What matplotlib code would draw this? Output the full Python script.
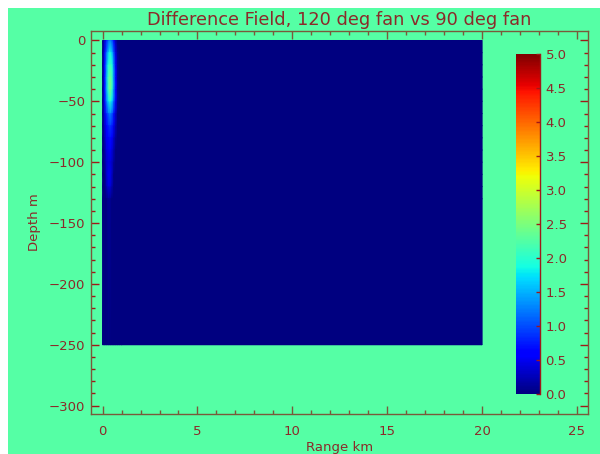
import numpy as np
import matplotlib
matplotlib.use('Agg')
import matplotlib.pyplot as plt
from matplotlib.patches import Rectangle
from matplotlib.ticker import MultipleLocator, FormatStrFormatter

# Grid nodes of the difference field (range km, depth m)
range_km = [0.0, 0.1, 0.2, 0.3, 0.4, 0.5, 0.6, 0.7, 0.8, 0.9, 1.0, 20.0]
depth_m = [0, -10, -20, -30, -40, -50, -60, -70, -80, -90, -100,
           -110, -120, -130, -250]

# values at the nodes, one row per depth
field = [
    [0, 0.3, 0.7, 1.0, 1.2, 1.0, 0.6, 0.2, 0, 0, 0, 0],
    [0, 0.5, 1.1, 1.6, 1.9, 1.6, 1.0, 0.4, 0.1, 0, 0, 0],
    [0, 0.6, 1.3, 1.9, 2.1, 1.9, 1.2, 0.5, 0.1, 0, 0, 0],
    [0, 0.6, 1.4, 2.1, 2.4, 2.1, 1.3, 0.6, 0.1, 0, 0, 0],
    [0, 0.6, 1.4, 2.1, 2.5, 2.1, 1.3, 0.6, 0.1, 0, 0, 0],
    [0, 0.5, 1.2, 1.7, 2.0, 1.7, 1.1, 0.5, 0.1, 0, 0, 0],
    [0, 0.4, 0.8, 1.1, 1.3, 1.1, 0.7, 0.3, 0, 0, 0, 0],
    [0, 0.3, 0.6, 0.8, 0.9, 0.8, 0.5, 0.2, 0, 0, 0, 0],
    [0, 0.2, 0.5, 0.6, 0.7, 0.6, 0.3, 0.1, 0, 0, 0, 0],
    [0, 0.1, 0.4, 0.5, 0.6, 0.4, 0.2, 0, 0, 0, 0, 0],
    [0, 0.1, 0.3, 0.4, 0.4, 0.3, 0.1, 0, 0, 0, 0, 0],
    [0, 0, 0.3, 0.5, 0.5, 0.3, 0, 0, 0, 0, 0, 0],
    [0, 0, 0.2, 0.4, 0.4, 0.2, 0, 0, 0, 0, 0, 0],
    [0, 0, 0, 0.1, 0.1, 0, 0, 0, 0, 0, 0, 0],
    [0, 0, 0, 0, 0, 0, 0, 0, 0, 0, 0, 0],
]
cbar_ticks = [0.0, 0.5, 1.0, 1.5, 2.0, 2.5, 3.0, 3.5, 4.0, 4.5, 5.0]

bg = '#55FFA5'
txt = '#8B2A2A'
spine = '#7A5A3A'
tickred = '#A01818'

fig = plt.figure(figsize=(6.0, 4.54), dpi=100, facecolor='white')
# green panel with a thin white margin top/left
fig.patches.append(Rectangle((8 / 600, 0), 1, 1 - 8 / 454,
                             transform=fig.transFigure, facecolor=bg,
                             edgecolor='none', zorder=-10))

ax = fig.add_axes([91 / 600, 1 - 414 / 454, 497 / 600, 383 / 454])
ax.set_facecolor(bg)
mesh = ax.pcolormesh(np.array(range_km), np.array(depth_m), np.array(field),
                     cmap='jet', vmin=0, vmax=5, shading='gouraud')

ax.set_xlim(-0.61, 25.58)
ax.set_ylim(-306.9, 7.8)
ax.xaxis.set_major_locator(MultipleLocator(5))
ax.xaxis.set_minor_locator(MultipleLocator(1))
ax.yaxis.set_major_locator(MultipleLocator(50))
ax.yaxis.set_minor_locator(MultipleLocator(10))
for s in ax.spines.values():
    s.set_color(spine)
    s.set_linewidth(1.0)
ax.tick_params(which='both', direction='in', top=True, right=True,
               labelsize=9.5, labelcolor=txt, width=1.0)
ax.tick_params(axis='x', which='both', color=spine, pad=8)
ax.tick_params(axis='y', which='both', color=tickred, pad=4)
ax.tick_params(which='major', length=6)
ax.tick_params(which='minor', length=3)

ax.set_title('Difference Field, 120 deg fan vs 90 deg fan',
             fontsize=12.8, color=txt, pad=4)
ax.set_xlabel('Range km', fontsize=9.5, color=txt, labelpad=2)
ax.set_ylabel('Depth m', fontsize=9.5, color=txt, labelpad=6)

# colour bar
cax = fig.add_axes([516 / 600, 1 - 394 / 454, 24 / 600, 340 / 454])
cb = fig.colorbar(mesh, cax=cax, ticks=cbar_ticks)
cb.outline.set_visible(False)
cax.axvline(1, color=tickred, lw=1.0, clip_on=False)
cax.yaxis.set_major_formatter(FormatStrFormatter('%.1f'))
cax.tick_params(direction='in', length=3, width=1.0, color=tickred,
                labelsize=9.5, labelcolor=txt, pad=4)

fig.savefig('out.png', dpi=100, facecolor=fig.get_facecolor())
